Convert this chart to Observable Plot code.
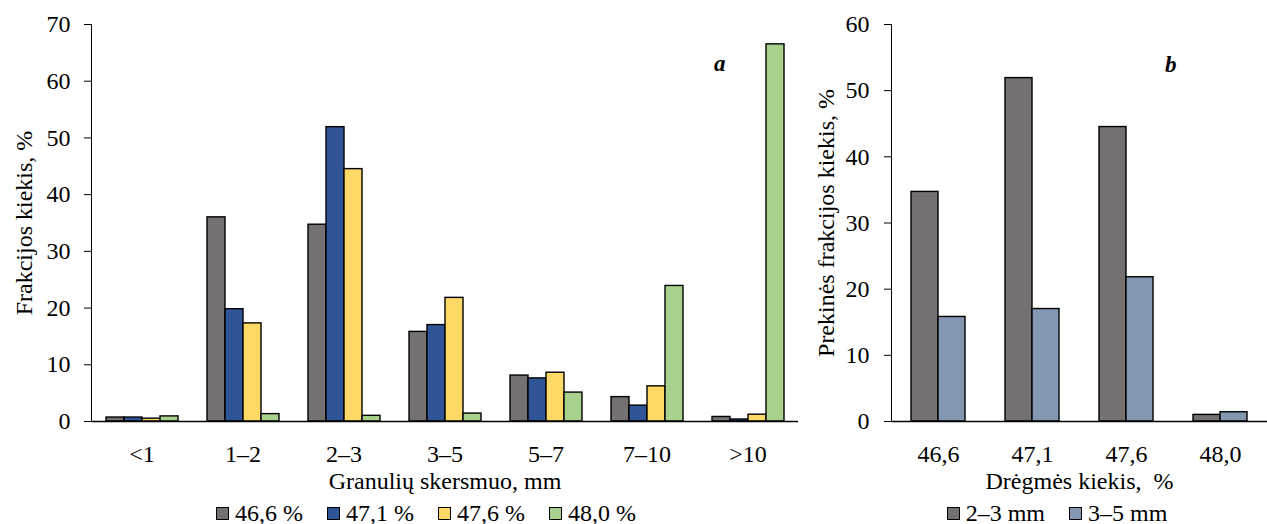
<!DOCTYPE html>
<html><head><meta charset="utf-8">
<script src="https://cdn.jsdelivr.net/npm/d3@7"></script>
<script src="https://cdn.jsdelivr.net/npm/@observablehq/plot@0.6"></script>
<style>
body{margin:0;background:#fff;font-family:"Liberation Serif","Times New Roman",serif;color:#000;}
#wrap{position:relative;width:1267px;height:524px;display:flex;overflow:hidden;}
.panel{position:relative;}
.legend{display:flex;justify-content:center;gap:24px;font-size:24px;color:#000;height:28px;margin-top:4px;align-items:center;}
.item{display:flex;align-items:center;}
.sw{display:inline-block;width:11px;height:11px;border:1.4px solid #000;margin-right:6px;}
.tag{position:absolute;font-weight:bold;font-style:italic;font-size:23px;}
</style></head><body>
<div id="wrap"><div class="panel" id="pa"></div><div class="panel" id="pb"></div></div>
<script>
// Panel a
const sizeCats = ["<1","1–2","2–3","3–5","5–7","7–10",">10"];
const moistSeries = ["46,6 %","47,1 %","47,6 %","48,0 %"];
const v466 = [0.7, 36.0, 34.7, 15.8, 8.1, 4.3, 0.8];
const v471 = [0.7, 19.8, 51.9, 17.0, 7.6, 2.8, 0.35];
const v476 = [0.5, 17.3, 44.5, 21.8, 8.6, 6.2, 1.2];
const v480 = [0.9, 1.3, 1.0, 1.4, 5.1, 23.9, 66.5];
const colorsA = ["#767171","#2F5597","#FFD966","#A9D18E"];
const yTicksA = [0,10,20,30,40,50,60,70];

// Panel b
const moistCats = ["46,6","47,1","47,6","48,0"];
const fracSeries = ["2–3 mm","3–5 mm"];
const v23 = [34.7, 51.9, 44.5, 1.0];
const v35 = [15.8, 17.0, 21.8, 1.4];
const colorsB = ["#767171","#8497B0"];
const yTicksB = [0,10,20,30,40,50,60];

const seriesA = [v466, v471, v476, v480];
const rowsA = [];
sizeCats.forEach((c, i) => moistSeries.forEach((s, j) => rowsA.push({cat: c, series: s, value: seriesA[j][i]})));
const seriesB = [v23, v35];
const rowsB = [];
moistCats.forEach((c, i) => fracSeries.forEach((s, j) => rowsB.push({cat: c, series: s, value: seriesB[j][i]})));

const style = {fontFamily: "'Liberation Serif','Times New Roman',serif", fontSize: "24px", color: "#000", background: "#fff", overflow: "visible"};

function makePlot(rows, cats, series, colors, yMax, yTicks, opts) {
  return Plot.plot({
    width: opts.width, height: 495,
    marginLeft: opts.marginLeft, marginRight: opts.marginRight, marginTop: 24, marginBottom: 74,
    style,
    facet: {data: rows, x: "cat"},
    fx: {domain: cats, paddingInner: 0, paddingOuter: 0, tickSize: 0, tickPadding: 23,
         label: opts.xLabel, labelAnchor: "center", labelOffset: 67},
    x: {domain: series, paddingInner: 0, paddingOuter: opts.pad, axis: null},
    y: {domain: [0, yMax], ticks: yTicks, tickSize: 7, tickPadding: opts.tickPad, line: true,
        label: opts.yLabel, labelAnchor: "center", labelOffset: opts.labelOffset, labelArrow: false},
    color: {domain: series, range: colors},
    marks: [
      Plot.barY(rows, {x: "series", y: "value", fill: "series", stroke: "#000", strokeWidth: 1.4}),
      Plot.ruleY([0], {stroke: "#000", strokeWidth: 1.6})
    ]
  });
}

function legend(series, colors, padLeft) {
  const d = document.createElement("div");
  d.className = "legend";
  d.style.paddingLeft = padLeft + "px";
  series.forEach((s, i) => {
    const it = document.createElement("span");
    it.className = "item";
    const sw = document.createElement("span");
    sw.className = "sw";
    sw.style.background = colors[i];
    it.appendChild(sw);
    it.appendChild(document.createTextNode(s));
    d.appendChild(it);
  });
  return d;
}

const pa = document.getElementById("pa");
pa.appendChild(makePlot(rowsA, sizeCats, moistSeries, colorsA, 70, yTicksA,
  {width: 810, marginLeft: 88, marginRight: 10, pad: 0.75, tickPad: 14, labelOffset: 77,
   xLabel: "Granulių skersmuo, mm", yLabel: "Frakcijos kiekis, %"}));
pa.appendChild(legend(moistSeries, colorsA, 42));
const ta = document.createElement("span"); ta.className = "tag"; ta.textContent = "a";
ta.style.left = "714px"; ta.style.top = "51px"; pa.appendChild(ta);

const pb = document.getElementById("pb");
pb.appendChild(makePlot(rowsB, moistCats, fracSeries, colorsB, 60, yTicksB,
  {width: 457, marginLeft: 80, marginRight: 0, pad: 0.73, tickPad: 15, labelOffset: 75,
   xLabel: "Drėgmės kiekis,  %", yLabel: "Prekinės frakcijos kiekis, %"}));
pb.appendChild(legend(fracSeries, colorsB, 37));
const tb = document.createElement("span"); tb.className = "tag"; tb.textContent = "b";
tb.style.left = "355px"; tb.style.top = "52px"; pb.appendChild(tb);
</script>
</body></html>
